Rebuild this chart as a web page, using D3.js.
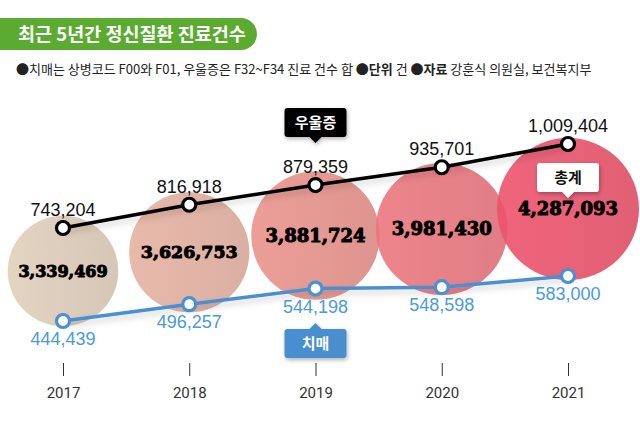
<!DOCTYPE html>
<html>
<head>
<meta charset="utf-8">
<script src="https://cdn.jsdelivr.net/npm/d3@7"></script>
<style>
body{margin:0;background:#fff;}
svg{display:block;}
</style>
</head>
<body>
<svg id="chart" width="640" height="424"></svg>
<script>
const years = ["2017", "2018", "2019", "2020", "2021"];
const totals = [3339469, 3626753, 3881724, 3981430, 4287093];
const depression = [743204, 816918, 879359, 935701, 1009404];
const dementia = [444439, 496257, 544198, 548598, 583000];
const circleColors = ["#d8c6b3", "#dcab9b", "#e08d86", "#e2727a", "#e45068"];
const titleText = "최근 5년간 정신질환 진료건수";

const svg = d3.select("#chart");
const fmt = d3.format(",");
const KR = "'Noto Sans CJK KR', 'Noto Sans', sans-serif";

const defs = svg.append("defs");
const sh = defs.append("filter").attr("id", "shadow").attr("x", "-20%").attr("y", "-50%").attr("width", "140%").attr("height", "200%");
sh.append("feDropShadow").attr("dx", 0).attr("dy", 4).attr("stdDeviation", 3).attr("flood-color", "#000").attr("flood-opacity", 0.18);
const bsh = defs.append("filter").attr("id", "boxshadow").attr("x", "-30%").attr("y", "-30%").attr("width", "160%").attr("height", "170%");
bsh.append("feDropShadow").attr("dx", 1).attr("dy", 2).attr("stdDeviation", 2).attr("flood-color", "#000").attr("flood-opacity", 0.3);

circleColors.forEach((c, i) => {
  const g = defs.append("linearGradient").attr("id", "grad" + i).attr("x1", "0").attr("x2", "1").attr("y1", "0").attr("y2", "0");
  g.append("stop").attr("offset", "0").attr("stop-color", d3.color(c).brighter(0.12));
  g.append("stop").attr("offset", "1").attr("stop-color", d3.color(c).darker(0.08));
});

// Title
svg.append("rect").attr("x", -20).attr("y", 18).attr("width", 277).attr("height", 32).attr("rx", 16).attr("fill", "#5aab2f");
svg.append("text").attr("x", 18).attr("y", 41).attr("fill", "#fff").attr("font-family", KR)
  .attr("font-size", 18.5).attr("font-weight", 700).text(titleText);

// Subtitle
const sub = svg.append("text").attr("x", 16).attr("y", 74).attr("fill", "#222").attr("font-family", KR).attr("font-size", 13);
sub.append("tspan").text("●치매는 상병코드 F00와 F01, 우울증은 F32~F34 진료 건수 합  ");
sub.append("tspan").attr("font-weight", 700).text("●단위");
sub.append("tspan").text(" 건  ");
sub.append("tspan").attr("font-weight", 700).text("●자료");
sub.append("tspan").text(" 강훈식 의원실, 보건복지부");

// Scales
const x = d3.scalePoint().domain(years).range([63, 568]);
const yDep = d3.scaleLinear().domain([743204, 1009404]).range([228, 144]);
const yDem = d3.scaleLinear().domain([444439, 583000]).range([321, 276]);
const yTot = d3.scaleLinear().domain([3339469, 4287093]).range([271, 209]);
const rScale = d3.scaleLinear().domain([0, 4287093]).range([0, 71]);

// Circles
const circ = svg.append("g");
years.forEach((yr, i) => {
  circ.append("circle").attr("cx", x(yr)).attr("cy", yTot(totals[i])).attr("r", rScale(totals[i]))
    .attr("fill", `url(#grad${i})`).attr("opacity", 0.9);
});

// Axis
const axis = svg.append("g").attr("transform", "translate(0,363)")
  .call(d3.axisBottom(x).tickSize(13).tickPadding(11));
axis.select(".domain").remove();
axis.selectAll(".tick line").attr("stroke", "#333");
axis.selectAll(".tick text").attr("fill", "#333")
  .attr("font-family", "'Liberation Sans Narrow', 'Roboto', sans-serif").attr("font-size", 15);

// Lines
function drawSeries(vals, yS, color, labelColor, above) {
  const pts = vals.map((v, i) => [x(years[i]), yS(v)]);
  svg.append("path").attr("d", d3.line()(pts)).attr("fill", "none").attr("stroke", color)
    .attr("stroke-width", 3.5).attr("filter", "url(#shadow)");
  const g = svg.append("g");
  vals.forEach((v, i) => {
    g.append("circle").attr("cx", pts[i][0]).attr("cy", pts[i][1]).attr("r", 6.5)
      .attr("fill", "#fff").attr("stroke", color).attr("stroke-width", 3.2);
    g.append("text").attr("x", pts[i][0]).attr("y", above ? pts[i][1] - 12 : pts[i][1] + 24)
      .attr("text-anchor", "middle").attr("fill", labelColor)
      .attr("font-family", "'Liberation Sans', Arial, sans-serif").attr("font-size", 18).text(fmt(v));
  });
}
drawSeries(depression, yDep, "#000", "#111", true);
drawSeries(dementia, yDem, "#4a90d2", "#4b9adc", false);

// Total labels
years.forEach((yr, i) => {
  const r = rScale(totals[i]);
  svg.append("text").attr("x", x(yr)).attr("y", yTot(totals[i]) + 6).attr("text-anchor", "middle")
    .attr("font-family", "'DejaVu Serif', serif").attr("font-weight", 700)
    .attr("font-size", Math.min(18, r * 0.29)).attr("fill", "#000").attr("stroke", "#000").attr("stroke-width", 1)
    .attr("stroke-linejoin", "round")
    .text(fmt(totals[i]));
});

// Callout boxes
function callout(cx, y, w, h, fill, textColor, label, pointerDown) {
  const g = svg.append("g").attr("filter", "url(#boxshadow)");
  const l = cx - w / 2, rr = 3, p = 6;
  let d;
  if (pointerDown) {
    d = `M${l + rr},${y} H${l + w - rr} Q${l + w},${y} ${l + w},${y + rr} V${y + h - rr} Q${l + w},${y + h} ${l + w - rr},${y + h}
      H${cx + p} L${cx},${y + h + p} L${cx - p},${y + h} H${l + rr} Q${l},${y + h} ${l},${y + h - rr} V${y + rr} Q${l},${y} ${l + rr},${y} Z`;
  } else {
    d = `M${l + rr},${y} H${cx - p} L${cx},${y - p} L${cx + p},${y} H${l + w - rr} Q${l + w},${y} ${l + w},${y + rr} V${y + h - rr} Q${l + w},${y + h} ${l + w - rr},${y + h}
      H${l + rr} Q${l},${y + h} ${l},${y + h - rr} V${y + rr} Q${l},${y} ${l + rr},${y} Z`;
  }
  g.append("path").attr("d", d).attr("fill", fill);
  svg.append("text").attr("x", cx).attr("y", y + h / 2 + 5.5).attr("text-anchor", "middle").attr("fill", textColor)
    .attr("font-family", KR).attr("font-size", 15).attr("font-weight", 700).text(label);
}
callout(x("2019"), 108, 62, 29, "#000", "#fff", "우울증", true);
callout(x("2019"), 329, 62, 29, "#4a8fd0", "#fff", "치매", false);
callout(x("2021"), 163, 62, 29, "#fff", "#111", "총계", true);
</script>
</body>
</html>
